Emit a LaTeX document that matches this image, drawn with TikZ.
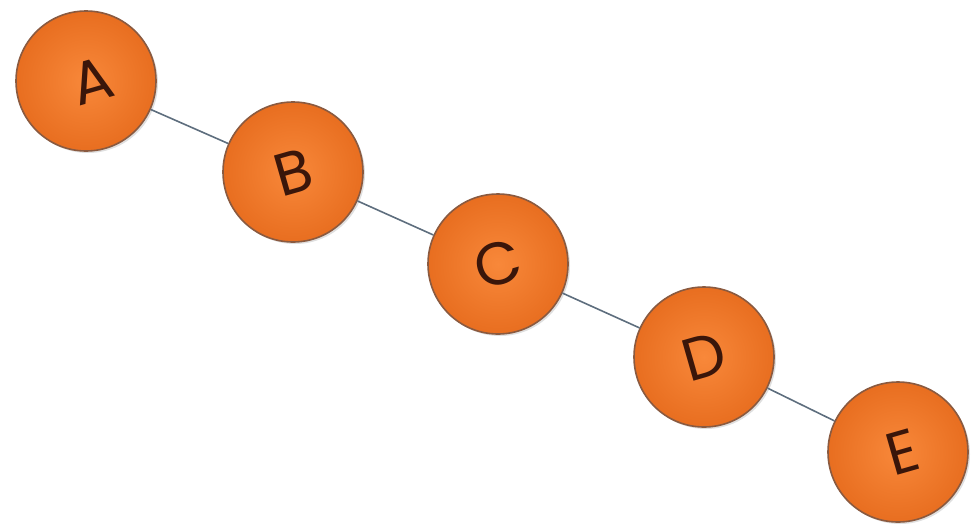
\documentclass[tikz,border=0pt]{standalone}
\usepackage{fontspec}
\setmainfont{Poppins}
\usetikzlibrary{shadows}
\definecolor{ballinner}{HTML}{F8883A}
\definecolor{ballouter}{HTML}{E86E20}
\definecolor{balledge}{HTML}{8A5A40}
\definecolor{balltext}{HTML}{3A160A}
\definecolor{linkcol}{HTML}{5E6E7E}
\tikzset{
  ball/.style={circle, minimum size=140pt, inner sep=0pt, draw=balledge, line width=1.6pt,
    inner color=ballinner, outer color=ballouter,
    drop shadow={shadow xshift=2pt, shadow yshift=-2pt, opacity=0.25},
    font=\fontsize{60}{60}\selectfont, text=balltext},
  link/.style={draw=linkcol, line width=1.6pt}
}
\newcommand{\tilt}[1]{\rotatebox{16}{#1}}
\begin{document}
\begin{tikzpicture}[x=1pt,y=-1pt]
\useasboundingbox (0,0) rectangle (977,531);
\node[ball] (A) at (86,81) {\hspace{12pt}\tilt{A}};
\node[ball] (B) at (293,172) {\tilt{B}};
\node[ball] (C) at (498,264) {\tilt{C}};
\node[ball] (D) at (704,357) {\tilt{D}};
\node[ball] (E) at (898,452) {\hspace{10pt}\tilt{E}};
\draw[link] (A) -- (B);
\draw[link] (B) -- (C);
\draw[link] (C) -- (D);
\draw[link] (D) -- (E);
\end{tikzpicture}
\end{document}
